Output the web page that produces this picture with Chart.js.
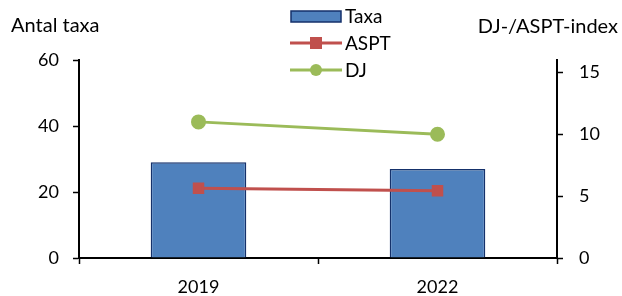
<!DOCTYPE html>
<html>
<head>
<meta charset="utf-8">
<script src="https://cdn.jsdelivr.net/npm/chart.js@4/dist/chart.umd.min.js"></script>
<style>
  html, body { margin: 0; padding: 0; background: #fff; }
  #wrap { width: 622px; height: 296px; }
</style>
</head>
<body>
<div id="wrap"><canvas id="taxaChart" width="622" height="296"></canvas></div>
<script>
// värden
const years = ['2019', '2022'];
const taxa = [29, 27];
const aspt = [5.63, 5.44];
const dj = [11, 10];
const leftTicks = [0, 20, 40, 60];
const rightTicks = [0, 5, 10, 15];

const FONT = 'Lato, "Liberation Sans", sans-serif';

// egen legend + axeltitlar (Chart.js legend kan inte staplas vertikalt upptill)
const extras = {
    id: 'extras',
    afterDraw(chart) {
        const c = chart.ctx;
        c.save();
        c.font = '20px ' + FONT;
        c.fillStyle = '#000';
        c.textBaseline = 'alphabetic';
        c.textAlign = 'left';
        c.fillText('Antal taxa', 11, 32);
        c.textAlign = 'right';
        c.fillText('DJ-/ASPT-index', 618, 33);

        c.font = '19px ' + FONT;
        c.textAlign = 'left';
        c.textBaseline = 'middle';
        chart.data.datasets.forEach((ds, i) => {
            const y = 16 + i * 27;
            if (ds.type === 'bar') {
                c.fillStyle = ds.backgroundColor;
                c.strokeStyle = ds.borderColor;
                c.lineWidth = 1.5;
                c.fillRect(291, y - 5, 50, 11);
                c.strokeRect(291, y - 5, 50, 11);
            } else {
                c.strokeStyle = ds.borderColor;
                c.lineWidth = 3;
                c.beginPath();
                c.moveTo(290, y);
                c.lineTo(342, y);
                c.stroke();
                c.fillStyle = ds.pointBackgroundColor;
                if (ds.pointStyle === 'rect') {
                    c.fillRect(310, y - 6, 12, 12);
                } else {
                    c.beginPath();
                    c.arc(316, y, 6, 0, Math.PI * 2);
                    c.fill();
                }
            }
            c.fillStyle = '#000';
            c.fillText(ds.label, 345, y + 1);
        });
        c.restore();
    }
};

const ctx = document.getElementById('taxaChart').getContext('2d');
const taxaChart = new Chart(ctx, {
    data: {
        labels: years,
        datasets: [
            {
                type: 'bar', label: 'Taxa', data: taxa, yAxisID: 'y',
                backgroundColor: '#4F81BD', borderColor: '#15316B', borderWidth: 1.5,
                barPercentage: 0.4, categoryPercentage: 1, order: 2
            },
            {
                type: 'line', label: 'ASPT', data: aspt, yAxisID: 'y1',
                borderColor: '#C0504D', backgroundColor: '#C0504D', pointBackgroundColor: '#C0504D',
                pointBorderColor: '#C0504D', borderWidth: 3, pointStyle: 'rect', pointRadius: 6,
                order: 1
            },
            {
                type: 'line', label: 'DJ', data: dj, yAxisID: 'y1',
                borderColor: '#9BBB59', backgroundColor: '#9BBB59', pointBackgroundColor: '#9BBB59',
                pointBorderColor: '#9BBB59', borderWidth: 3, pointStyle: 'circle', pointRadius: 6,
                order: 1
            }
        ]
    },
    options: {
        responsive: false,
        animation: false,
        layout: { padding: { top: 60, left: 0, right: 0, bottom: 0 } },
        plugins: { legend: { display: false }, tooltip: { enabled: false } },
        scales: {
            x: {
                offset: true,
                grid: { offset: true, drawOnChartArea: false, tickLength: 6, tickColor: '#000', tickWidth: 1.5 },
                border: { color: '#000', width: 2 },
                ticks: { color: '#000', font: { family: FONT, size: 18 }, padding: 12 },
                afterFit(s) { s.height = 38; }
            },
            y: {
                position: 'left', min: 0, max: 60,
                afterBuildTicks(s) { s.ticks = leftTicks.map(v => ({ value: v })); },
                grid: { drawOnChartArea: false, tickLength: 6, tickColor: '#000', tickWidth: 1.5 },
                border: { color: '#000', width: 2 },
                ticks: { color: '#000', font: { family: FONT, size: 18 }, padding: 14 },
                afterFit(s) { s.width = 79; }
            },
            y1: {
                position: 'right', min: 0, max: 16,
                afterBuildTicks(s) { s.ticks = rightTicks.map(v => ({ value: v })); },
                grid: { drawOnChartArea: false, tickLength: 6, tickColor: '#000', tickWidth: 1.5 },
                border: { color: '#000', width: 2 },
                ticks: { color: '#000', font: { family: FONT, size: 18 }, padding: 16 },
                afterFit(s) { s.width = 65; }
            }
        }
    },
    plugins: [extras]
});
</script>
</body>
</html>
